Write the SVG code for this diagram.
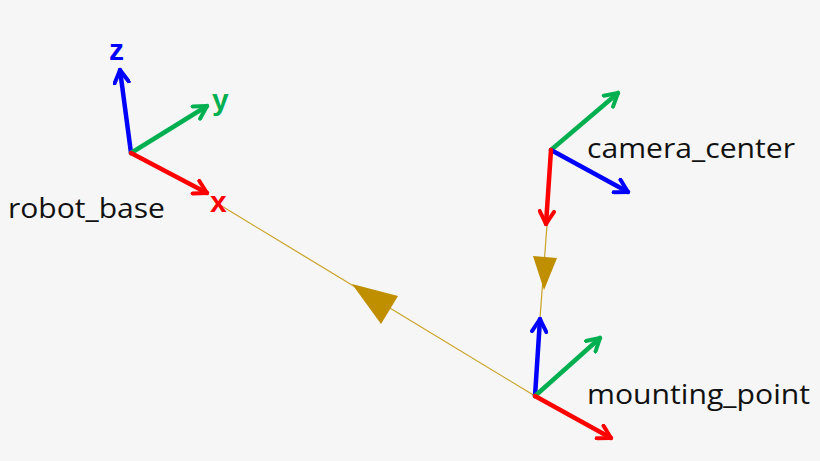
<svg xmlns="http://www.w3.org/2000/svg" width="820" height="461" viewBox="0 0 820 461">
<style>
.ax{stroke-width:4.5;fill:none;stroke-linecap:round}
.r{stroke:#ff0000}.g{stroke:#00b050}.b{stroke:#0000ff}
.lbl{font-family:"Open Sans","Liberation Sans",sans-serif;font-size:28px;fill:#111}
.al{font-family:"Liberation Sans",sans-serif;font-size:30px;font-weight:bold}
.lk{stroke:#c9a227;stroke-width:1.2;fill:none}
</style>
<defs>
<marker id="h" viewBox="0 0 10 10" refX="8" refY="5" markerWidth="4" markerHeight="4" orient="auto" markerUnits="strokeWidth">
<path d="M1,1 L8,5 L1,9" fill="none" stroke="context-stroke" stroke-width="2.2" stroke-linecap="round" stroke-linejoin="round"/>
</marker>
</defs>
<rect width="820" height="461" fill="#f6f6f6"/>
<g id="connectors">
<line class="lk" x1="220" y1="205" x2="535" y2="396"/>
<polygon points="352,284 398,296 381,324" fill="#bf8f00"/>
<line class="lk" x1="547" y1="225" x2="540" y2="318"/>
<polygon points="533,256 557,258 544,290" fill="#bf8f00"/>
</g>
<g id="robot_base">
<line class="ax b" x1="131" y1="153" x2="120" y2="70" marker-end="url(#h)"/>
<line class="ax g" x1="131" y1="153" x2="207" y2="106" marker-end="url(#h)"/>
<line class="ax r" x1="131" y1="153" x2="207" y2="193" marker-end="url(#h)"/>
<text class="al" x="109" y="60" fill="#0000ff">z</text>
<text class="al" x="212" y="110" fill="#00b050">y</text>
<text class="al" x="210" y="212" fill="#ff0000">x</text>
<text class="lbl" x="8" y="218" textLength="157" lengthAdjust="spacingAndGlyphs">robot_base</text>
</g>
<g id="camera_center">
<line class="ax g" x1="551" y1="150" x2="618" y2="93" marker-end="url(#h)"/>
<line class="ax b" x1="551" y1="150" x2="628" y2="192" marker-end="url(#h)"/>
<line class="ax r" x1="551" y1="150" x2="546" y2="224" marker-end="url(#h)"/>
<text class="lbl" x="587" y="158" textLength="208" lengthAdjust="spacingAndGlyphs">camera_center</text>
</g>
<g id="mounting_point">
<line class="ax b" x1="535" y1="396" x2="540" y2="319" marker-end="url(#h)"/>
<line class="ax g" x1="535" y1="396" x2="600" y2="338" marker-end="url(#h)"/>
<line class="ax r" x1="535" y1="396" x2="611" y2="438" marker-end="url(#h)"/>
<text class="lbl" x="587" y="404" textLength="223" lengthAdjust="spacingAndGlyphs">mounting_point</text>
</g>
</svg>
